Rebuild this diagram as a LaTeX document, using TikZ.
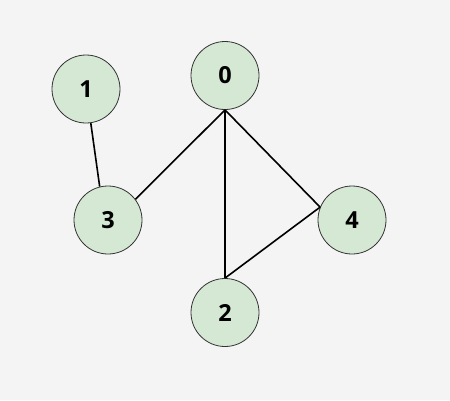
\documentclass[tikz,border=0pt]{standalone}
\usepackage{fontspec}
\setmainfont{Open Sans}
\definecolor{bgc}{HTML}{F4F4F4}
\definecolor{nodefill}{HTML}{D5E8D4}
\definecolor{nodeline}{HTML}{333333}
\begin{document}
\begin{tikzpicture}[x=1pt,y=-1pt,
  vert/.style={circle,draw=nodeline,line width=0.8pt,fill=nodefill,minimum size=68pt,inner sep=0pt,font=\fontsize{23.5}{25}\selectfont\bfseries},
  edge/.style={draw=black,line width=1.6pt}]
\fill[bgc] (0,0) rectangle (450,400);
\useasboundingbox (0,0) rectangle (450,400);
\node[vert] (n0) at (225,75.5) {0};
\node[vert] (n1) at (86,89) {1};
\node[vert] (n3) at (108,220) {3};
\node[vert] (n4) at (352,220) {4};
\node[vert] (n2) at (225,312.5) {2};
\draw[edge] (n1.-82) -- (n3.104);
\draw[edge] (n0.south) -- (n3.37);
\draw[edge] (n0.south) -- (n2.north);
\draw[edge] (n0.south) -- (n4.158);
\draw[edge] (n2.north) -- (n4.158);
\end{tikzpicture}
\end{document}
